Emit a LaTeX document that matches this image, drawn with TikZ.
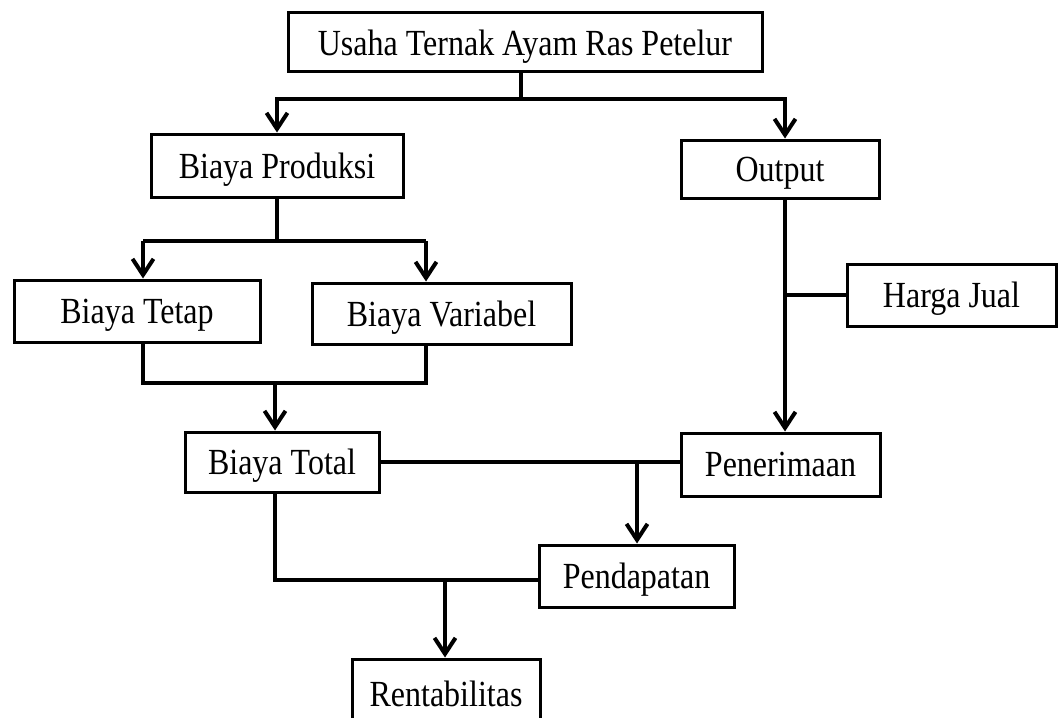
\documentclass[tikz,border=0pt]{standalone}
\usepackage{fontspec}
\setmainfont{Liberation Serif}
\usepackage{tikz}
\usetikzlibrary{arrows.meta,positioning,calc}
\newcommand{\tk}[1]{\scalebox{1}[1.15]{#1}}

\begin{document}
\begin{tikzpicture}[x=0.5pt, y=-0.5pt,
  kotak/.style={rectangle, draw=black, line width=1.5pt, inner sep=0pt,
    text depth=0pt, font=\fontsize{16}{19}\selectfont},
  garis/.style={line width=2pt},
  panah/.style={line width=2pt, -{Straight Barb[length=8pt,width=10.5pt]}}]
  \clip (0,0) rectangle (1058,717);

  \node (usaha) [kotak, minimum width=237pt, minimum height=29.5pt] at (525,42.5) {\tk{Usaha Ternak Ayam Ras Petelur}};
  \node (produksi) [kotak, minimum width=126pt, minimum height=31.5pt] at (277,165.5) {\tk{Biaya Produksi}};
  \node (output) [kotak, minimum width=99pt, minimum height=29pt] at (780,169) {\tk{Output}};
  \node (tetap) [kotak, minimum width=123pt, minimum height=31pt] at (137,311) {\tk{Biaya Tetap}};
  \node (variabel) [kotak, minimum width=129.5pt, minimum height=30.5pt] at (441.5,313.5) {\tk{Biaya Variabel}};
  \node (harga) [kotak, minimum width=104.5pt, minimum height=31pt] at (951.5,295) {\tk{Harga Jual}};
  \node (total) [kotak, minimum width=97pt, minimum height=30pt] at (282,462) {\tk{Biaya Total}};
  \node (terima) [kotak, minimum width=99.5pt, minimum height=31.5pt] at (780.5,464.5) {\tk{Penerimaan}};
  \node (dapat) [kotak, minimum width=97.5pt, minimum height=31pt] at (636.5,576) {\tk{Pendapatan}};
  \node (rentab) [kotak, minimum width=94pt, minimum height=35pt] at (446,694) {\tk{Rentabilitas}};

  % titik cabang
  \coordinate (j1) at (521,99);
  \coordinate (o1) at (785,99);
  \coordinate (a1) at (143,241);
  \coordinate (a2) at (426,241);
  \coordinate (b1) at (143,383);
  \coordinate (b2) at (426,383);
  \coordinate (b3) at (275,383);
  \coordinate (d1) at (637,463);
  \coordinate (e1) at (275,580);
  \coordinate (e2) at (445,580);

  \draw [garis] (usaha.south -| j1) -- (j1);
  \draw [panah] (j1) -| (produksi.north);
  \draw [panah] (j1) -- (o1) -- (o1 |- output.north);

  \draw [garis] (produksi.south) -- (produksi.south |- a1);
  \draw [garis] (a1) -- (a2);
  \draw [panah] (a1) -- (a1 |- tetap.north);
  \draw [panah] (a2) -- (a2 |- variabel.north);

  \draw [garis] (b1 |- tetap.south) -- (b1) -- (b2) -- (b2 |- variabel.south);
  \draw [panah] (b3) -- (b3 |- total.north);

  \draw [panah] (o1 |- output.south) -- (o1 |- terima.north);
  \draw [garis] (harga.west) -- (harga.west -| o1);

  \draw [garis] (total.east) -- (total.east -| terima.west);
  \draw [panah] (d1) -- (d1 |- dapat.north);

  \draw [garis] (e1 |- total.south) -- (e1) -- (e1 -| dapat.west);
  \draw [panah] (e2) -- (e2 |- rentab.north);
\end{tikzpicture}
\end{document}
